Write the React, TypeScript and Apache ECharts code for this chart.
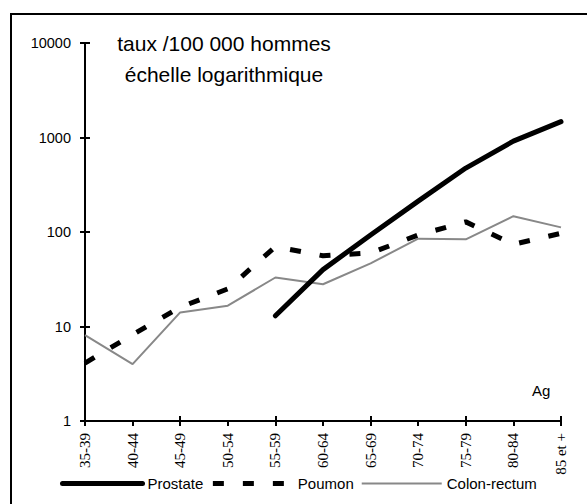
import React, { useEffect, useRef } from "react";
import * as echarts from "echarts";

const categories = ["35-39", "40-44", "45-49", "50-54", "55-59", "60-64", "65-69", "70-74", "75-79", "80-84", "85 et +"];
const prostate = [null, null, null, null, 13, 40, 93, 212, 475, 915, 1470];
const poumon = [4.1, 8.2, 16, 25, 70, 56, 60, 93, 128, 74, 97];
const colonRectum = [8.1, 4.0, 14.1, 16.6, 33, 28, 46.6, 85, 83.7, 147, 112];
const yTicks = [1, 10, 100, 1000, 10000];

const SANS = "'Liberation Sans', Arial, sans-serif";
const SERIF = "'Liberation Serif', 'Times New Roman', serif";

export default function App() {
  const ref = useRef<HTMLDivElement>(null);
  useEffect(() => {
    const chart = echarts.init(ref.current!, null, { renderer: "svg" });
    chart.setOption({
      animation: false,
      backgroundColor: "#fff",
      grid: { left: 85, right: 26, top: 43, bottom: 83, containLabel: false },
      graphic: [
        {
          type: "rect",
          shape: { x: 11, y: 14, width: 700, height: 700 },
          style: { fill: "none", stroke: "#000", lineWidth: 2 },
          silent: true,
        },
        {
          type: "text",
          x: 224,
          y: 43,
          style: { text: "taux /100 000 hommes", font: `21px ${SANS}`, fill: "#000", align: "center", verticalAlign: "middle" },
        },
        {
          type: "text",
          x: 224,
          y: 74,
          style: { text: "échelle logarithmique", font: `21px ${SANS}`, fill: "#000", align: "center", verticalAlign: "middle" },
        },
        {
          type: "text",
          x: 532,
          y: 390,
          style: { text: "Ag", font: `15px ${SANS}`, fill: "#000", align: "left", verticalAlign: "middle" },
        },
      ],
      legend: {
        left: 60,
        top: 476,
        itemWidth: 80,
        itemHeight: 14,
        itemGap: 7,
        padding: 0,
        textStyle: { fontFamily: SANS, fontSize: 15, color: "#000" },
        lineStyle: { width: "inherit" },
        itemStyle: { opacity: 0, color: "transparent", borderColor: "transparent", borderWidth: 0 },
        data: ["Prostate", "Poumon", "Colon-rectum"],
      },
      xAxis: [
        {
          type: "category",
          data: categories,
          boundaryGap: false,
          axisLine: { lineStyle: { color: "#000", width: 2 } },
          axisTick: { show: true, length: 5, lineStyle: { color: "#000", width: 2 } },
          axisLabel: { rotate: 90, margin: 12, fontFamily: SERIF, fontSize: 15, color: "#000", interval: 0 },
          splitLine: { show: false },
        },
        {
          type: "category",
          data: categories,
          boundaryGap: false,
          position: "bottom",
          axisLine: { show: false },
          axisTick: { show: true, inside: true, length: 5, lineStyle: { color: "#000", width: 2 } },
          axisLabel: { show: false },
          splitLine: { show: false },
        },
      ],
      yAxis: [
        {
          type: "log",
          logBase: 10,
          min: yTicks[0],
          max: yTicks[yTicks.length - 1],
          axisLine: { show: true, lineStyle: { color: "#000", width: 2 } },
          axisTick: { show: true, length: 5, lineStyle: { color: "#000", width: 2 } },
          axisLabel: { margin: 14, fontFamily: SANS, fontSize: 14.5, color: "#000", formatter: (v: number) => String(Math.round(v)) },
          splitLine: { show: false },
          minorTick: { show: false },
        },
        {
          type: "log",
          logBase: 10,
          min: yTicks[0],
          max: yTicks[yTicks.length - 1],
          position: "left",
          axisLine: { show: false },
          axisTick: { show: true, inside: true, length: 5, lineStyle: { color: "#000", width: 2 } },
          axisLabel: { show: false },
          splitLine: { show: false },
        },
      ],
      series: [
        {
          name: "Prostate",
          type: "line",
          data: prostate,
          symbol: "none",
          connectNulls: false,
          lineStyle: { color: "#000", width: 5, cap: "round" },
          itemStyle: { color: "#000" },
          z: 3,
        },
        {
          name: "Poumon",
          type: "line",
          data: poumon,
          symbol: "none",
          lineStyle: { color: "#000", width: 5, type: [11, 19], cap: "butt" },
          itemStyle: { color: "#000" },
          z: 2,
        },
        {
          name: "Colon-rectum",
          type: "line",
          data: colonRectum,
          symbol: "none",
          lineStyle: { color: "#888", width: 2 },
          itemStyle: { color: "#888" },
          z: 1,
        },
      ],
    });
    return () => chart.dispose();
  }, []);
  return <div ref={ref} style={{ width: 587, height: 504, position: "absolute", left: 0, top: 0 }} />;
}
